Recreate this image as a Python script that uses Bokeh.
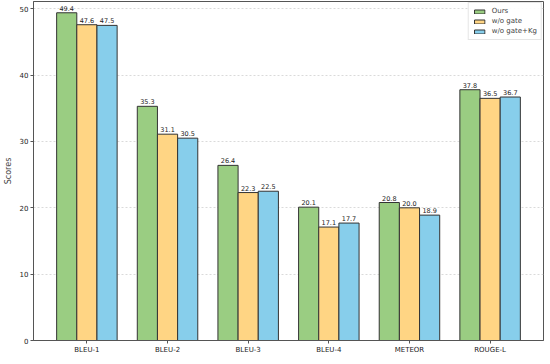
from bokeh.plotting import figure
from bokeh.models import ColumnDataSource, FactorRange, Legend, LegendItem, FixedTicker
from bokeh.transform import dodge
from bokeh.core.properties import value
from bokeh.embed import file_html
from bokeh.resources import INLINE

metrics = ["BLEU-1", "BLEU-2", "BLEU-3", "BLEU-4", "METEOR", "ROUGE-L"]
ours = [49.4, 35.3, 26.4, 20.1, 20.8, 37.8]
wo_gate = [47.6, 31.1, 22.3, 17.1, 20.0, 36.5]
wo_gate_kg = [47.5, 30.5, 22.5, 17.7, 18.9, 36.7]
series_names = ["Ours", "w/o gate", "w/o gate+Kg"]
colors = ["#9ACD82", "#FFD584", "#87CEEB"]
yticks = [0, 10, 20, 30, 40, 50]

src = ColumnDataSource(dict(
    metric=metrics, ours=ours, wo_gate=wo_gate, wo_gate_kg=wo_gate_kg,
    ours_t=[f"{v:.1f}" for v in ours],
    wo_gate_t=[f"{v:.1f}" for v in wo_gate],
    wo_gate_kg_t=[f"{v:.1f}" for v in wo_gate_kg],
))

FONT = "DejaVu Sans"
p = figure(x_range=FactorRange(*metrics, range_padding=0.054), y_range=(0, 51.1),
           frame_width=510, frame_height=339, output_backend="svg", toolbar_location=None,
           min_border_left=0, min_border_right=2, min_border_top=1, min_border_bottom=0)

keys = ["ours", "wo_gate", "wo_gate_kg"]
offsets = [-0.25, 0.0, 0.25]
renderers = []
for k, off, c in zip(keys, offsets, colors):
    r = p.vbar(x=dodge("metric", off, range=p.x_range), top=k, width=0.25, source=src,
               fill_color=c, line_color="#333333", line_width=1)
    renderers.append(r)
    p.text(x=dodge("metric", off, range=p.x_range), y=k, text=k + "_t", source=src,
           text_font=value(FONT), text_font_size="6.5px", text_align="center",
           text_baseline="bottom", y_offset=-2, text_color="#222222")

legend = Legend(items=[LegendItem(label=n, renderers=[r]) for n, r in zip(series_names, renderers)],
                location="top_right", label_text_font=FONT, label_text_font_size="7px",
                glyph_width=13, glyph_height=5, label_height=8, spacing=2, padding=4,
                margin=1, label_standoff=6, border_line_color="#cccccc",
                background_fill_alpha=0.9)
p.add_layout(legend)

p.yaxis.ticker = FixedTicker(ticks=yticks)
p.yaxis.axis_label = "Scores"
p.yaxis.axis_label_text_font = FONT
p.yaxis.axis_label_text_font_style = "normal"
p.yaxis.axis_label_text_font_size = "8px"
p.yaxis.axis_label_standoff = 4
for ax in (p.xaxis, p.yaxis):
    ax.major_label_text_font = FONT
    ax.major_label_text_font_size = "7px"
    ax.major_label_text_color = "#222222"
    ax.major_label_standoff = 2
    ax.major_tick_out = 3
    ax.major_tick_in = 0
    ax.minor_tick_out = 0
    ax.minor_tick_in = 0
    ax.axis_line_color = "#555555"
    ax.major_tick_line_color = "#555555"

p.xgrid.grid_line_color = None
p.ygrid.grid_line_color = "#d0d0d0"
p.ygrid.grid_line_dash = "2 2"
p.ygrid.grid_line_width = 0.8
p.outline_line_color = "#555555"
p.outline_line_width = 1

open("out.html", "w").write(file_html(p, INLINE))
